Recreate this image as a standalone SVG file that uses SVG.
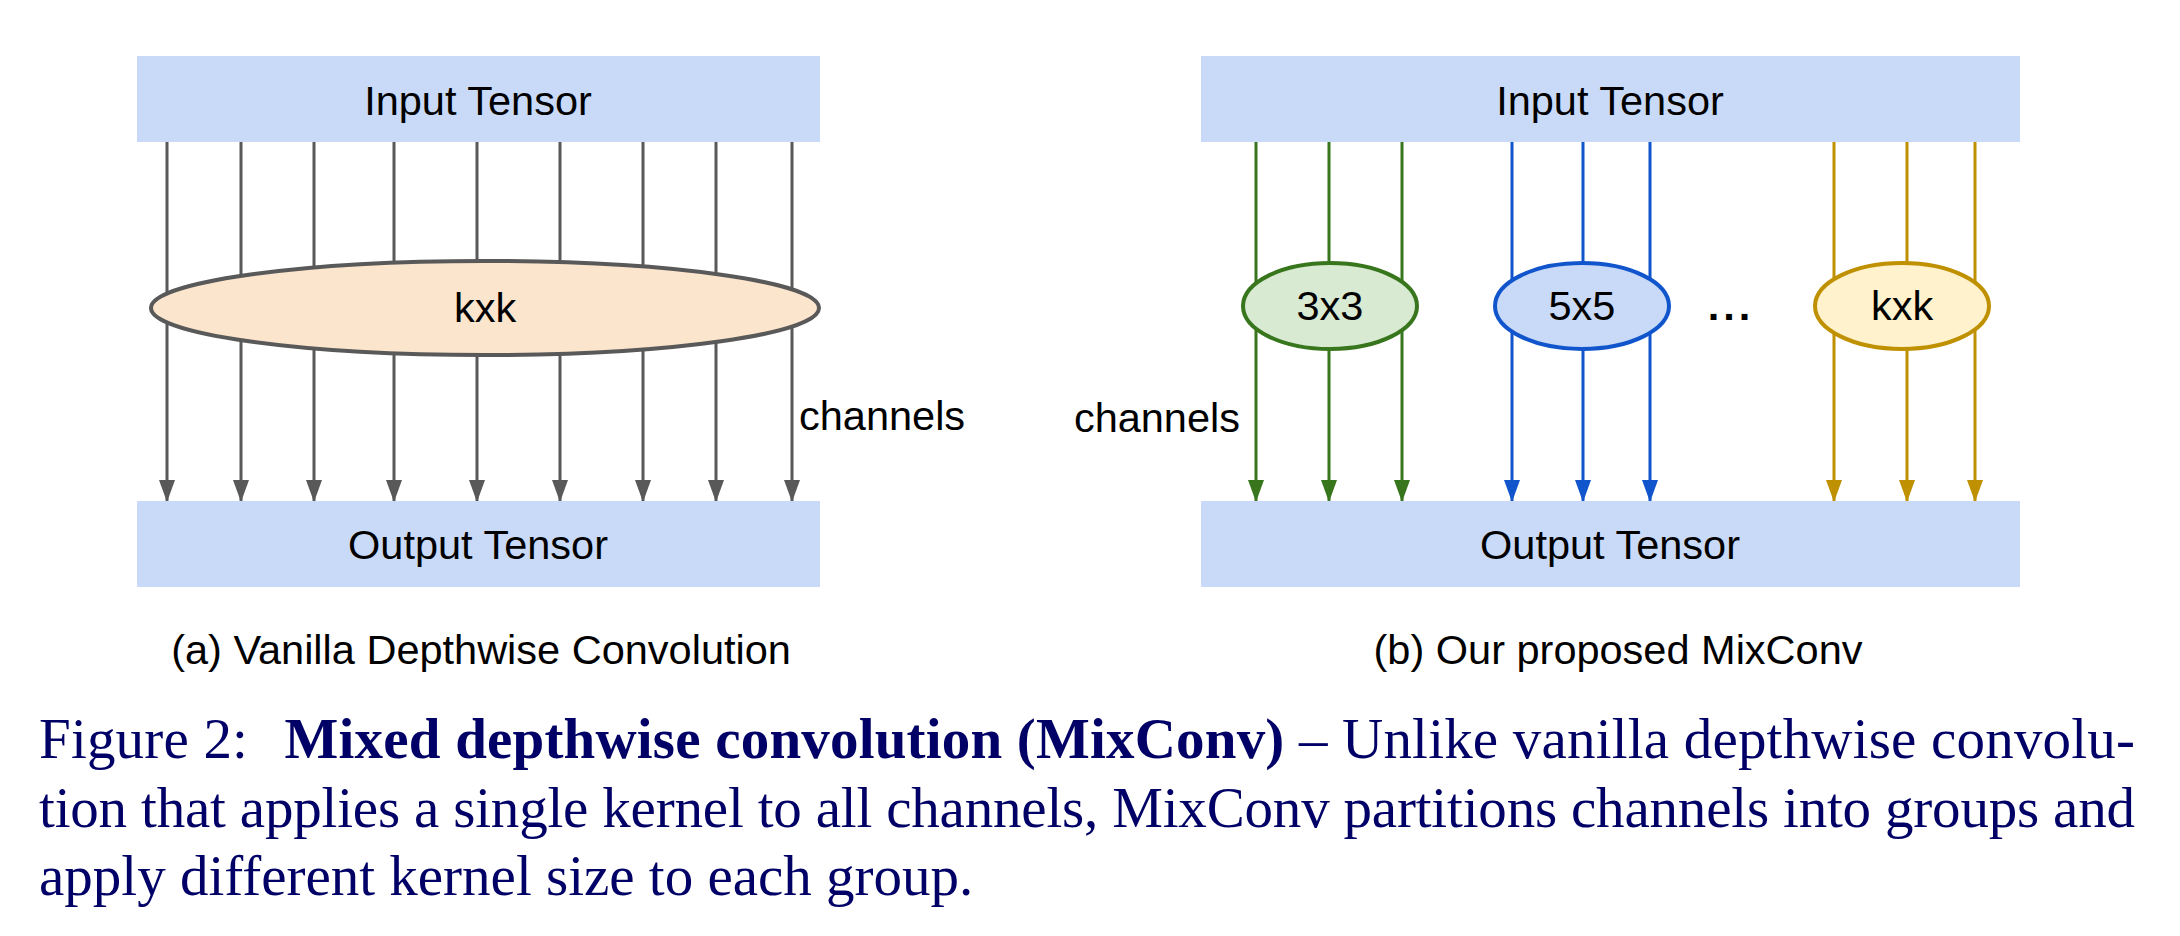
<svg xmlns="http://www.w3.org/2000/svg" width="2180" height="936" viewBox="0 0 2180 936">
<style>
.tensor{fill:#c9daf8}
.lbl{font-family:"Liberation Sans",Arial,sans-serif;font-size:41.5px;fill:#000}
.mid{text-anchor:middle}
.gray{stroke:#595959;stroke-width:3;fill:none}
.green{stroke:#38761d;stroke-width:3;fill:none}
.blue{stroke:#1155cc;stroke-width:3;fill:none}
.gold{stroke:#bf9000;stroke-width:3;fill:none}
.cap{font-family:"Liberation Serif","Times New Roman",serif;font-size:57px;fill:#000066}
</style>
<defs>
<marker id="ag" markerUnits="userSpaceOnUse" markerWidth="18" markerHeight="22" refX="8" refY="21" orient="0" viewBox="0 0 16 22"><path d="M0,0 L16,0 L8,22 Z" fill="#595959"/></marker>
<marker id="agr" markerUnits="userSpaceOnUse" markerWidth="18" markerHeight="22" refX="8" refY="21" orient="0" viewBox="0 0 16 22"><path d="M0,0 L16,0 L8,22 Z" fill="#38761d"/></marker>
<marker id="ab" markerUnits="userSpaceOnUse" markerWidth="18" markerHeight="22" refX="8" refY="21" orient="0" viewBox="0 0 16 22"><path d="M0,0 L16,0 L8,22 Z" fill="#1155cc"/></marker>
<marker id="ao" markerUnits="userSpaceOnUse" markerWidth="18" markerHeight="22" refX="8" refY="21" orient="0" viewBox="0 0 16 22"><path d="M0,0 L16,0 L8,22 Z" fill="#bf9000"/></marker>
</defs>
<rect width="2180" height="936" fill="#fff"/>
<g id="connectors">
<g class="gray" marker-end="url(#ag)">
<line x1="167" y1="142" x2="167" y2="501"/>
<line x1="241" y1="142" x2="241" y2="501"/>
<line x1="314" y1="142" x2="314" y2="501"/>
<line x1="394" y1="142" x2="394" y2="501"/>
<line x1="477" y1="142" x2="477" y2="501"/>
<line x1="560" y1="142" x2="560" y2="501"/>
<line x1="643" y1="142" x2="643" y2="501"/>
<line x1="716" y1="142" x2="716" y2="501"/>
<line x1="792" y1="142" x2="792" y2="501"/>
</g>
<g class="green" marker-end="url(#agr)">
<line x1="1256" y1="142" x2="1256" y2="501"/>
<line x1="1329" y1="142" x2="1329" y2="501"/>
<line x1="1402" y1="142" x2="1402" y2="501"/>
</g>
<g class="blue" marker-end="url(#ab)">
<line x1="1512" y1="142" x2="1512" y2="501"/>
<line x1="1583" y1="142" x2="1583" y2="501"/>
<line x1="1650" y1="142" x2="1650" y2="501"/>
</g>
<g class="gold" marker-end="url(#ao)">
<line x1="1834" y1="142" x2="1834" y2="501"/>
<line x1="1907" y1="142" x2="1907" y2="501"/>
<line x1="1975" y1="142" x2="1975" y2="501"/>
</g>
</g>
<g id="input-a"><rect class="tensor" x="137" y="56" width="683" height="86"/><text class="lbl mid" x="478" y="115">Input Tensor</text></g>
<g id="output-a"><rect class="tensor" x="137" y="501" width="683" height="86"/><text class="lbl mid" x="478" y="559">Output Tensor</text></g>
<g id="kernel-a"><ellipse cx="485" cy="308" rx="334" ry="47" fill="#fce5cd" stroke="#595959" stroke-width="4"/><text class="lbl mid" x="485" y="322">kxk</text></g>
<g id="channels-a"><text class="lbl" x="799" y="430">channels</text></g>
<g id="caption-a"><text class="lbl mid" x="481" y="664">(a) Vanilla Depthwise Convolution</text></g>

<g id="input-b"><rect class="tensor" x="1201" y="56" width="819" height="86"/><text class="lbl mid" x="1610" y="115">Input Tensor</text></g>
<g id="output-b"><rect class="tensor" x="1201" y="501" width="819" height="86"/><text class="lbl mid" x="1610" y="559">Output Tensor</text></g>
<g id="k3"><ellipse cx="1330" cy="306" rx="87" ry="43" fill="#d9ead3" stroke="#38761d" stroke-width="4"/><text class="lbl mid" x="1330" y="320">3x3</text></g>
<g id="k5"><ellipse cx="1582" cy="306" rx="87" ry="43" fill="#c9daf8" stroke="#1155cc" stroke-width="4"/><text class="lbl mid" x="1582" y="320">5x5</text></g>
<g id="dots"><text class="lbl mid" x="1731" y="320" font-weight="bold" letter-spacing="4">...</text></g>
<g id="kk"><ellipse cx="1902" cy="306" rx="87" ry="43" fill="#fff2cc" stroke="#bf9000" stroke-width="4"/><text class="lbl mid" x="1902" y="320">kxk</text></g>
<g id="channels-b"><text class="lbl" x="1240" y="432" text-anchor="end">channels</text></g>
<g id="caption-b"><text class="lbl mid" x="1618" y="664">(b) Our proposed MixConv</text></g>

<g id="figure-caption">
<text class="cap" x="39" y="758" textLength="2096" lengthAdjust="spacing">Figure 2:<tspan dx="22" font-weight="bold"> Mixed depthwise convolution (MixConv)</tspan> – Unlike vanilla depthwise convolu-</text>
<text class="cap" x="39" y="827" textLength="2096" lengthAdjust="spacing">tion that applies a single kernel to all channels, MixConv partitions channels into groups and</text>
<text class="cap" x="39" y="895">apply different kernel size to each group.</text>
</g>
</svg>
